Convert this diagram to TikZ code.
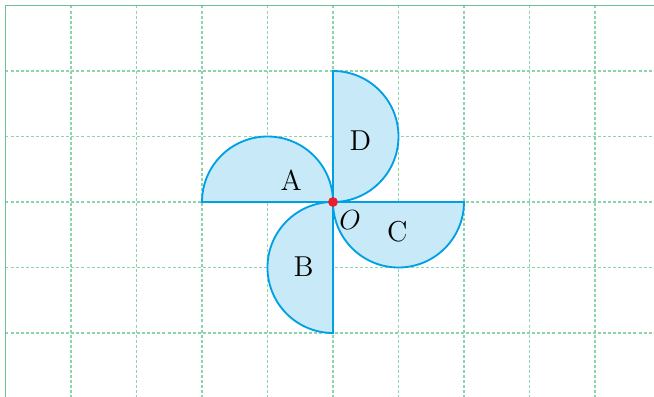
\documentclass[tikz,border=0pt]{standalone}
\usepackage{tikz}
\definecolor{gridgreen}{RGB}{140,212,172}
\definecolor{framegreen}{RGB}{105,195,145}
\definecolor{petalfill}{RGB}{200,233,248}
\definecolor{petalline}{RGB}{0,160,228}
\definecolor{dotred}{RGB}{230,30,45}

\begin{document}
\begin{tikzpicture}[
    line width=0.45pt,
    every node/.style={font=\rmfamily\fontsize{12.5}{14}\selectfont},
    gridline/.style={gridgreen,dash pattern=on 1.3pt off 0.9pt},
    petal/.style={fill=petalfill,draw=petalline,line width=0.8pt}
  ]
    \useasboundingbox (-5.084,-2.977) rectangle (4.901,3.084);
    \foreach \x in {-4,...,4}
      \draw[gridline] (\x,3) -- (\x,-2.977);
    \foreach \y in {-2,...,2}
      \draw[gridline] (-5,\y) -- (4.901,\y);
    \draw[framegreen,line width=0.8pt] (-5,-2.977) -- (-5,3) -- (4.901,3);
    \coordinate (O) at (0,0);
    \draw[petal] (O) -- (-2,0) arc (180:0:1) -- cycle;
    \draw[petal] (O) -- (0,2) arc (90:-90:1) -- cycle;
    \draw[petal] (O) -- (2,0) arc (0:-180:1) -- cycle;
    \draw[petal] (O) -- (0,-2) arc (-90:-270:1) -- cycle;
    \fill[dotred] (O) circle (0.075);
    \node (A) at (-0.64,0.33) {A};
    \node (D) at (0.42,0.93) {D};
    \node (C) at (0.98,-0.45) {C};
    \node (B) at (-0.45,-0.98) {B};
    \node (Olab) at (0.26,-0.27) {$O$};
  \end{tikzpicture}
\end{document}
